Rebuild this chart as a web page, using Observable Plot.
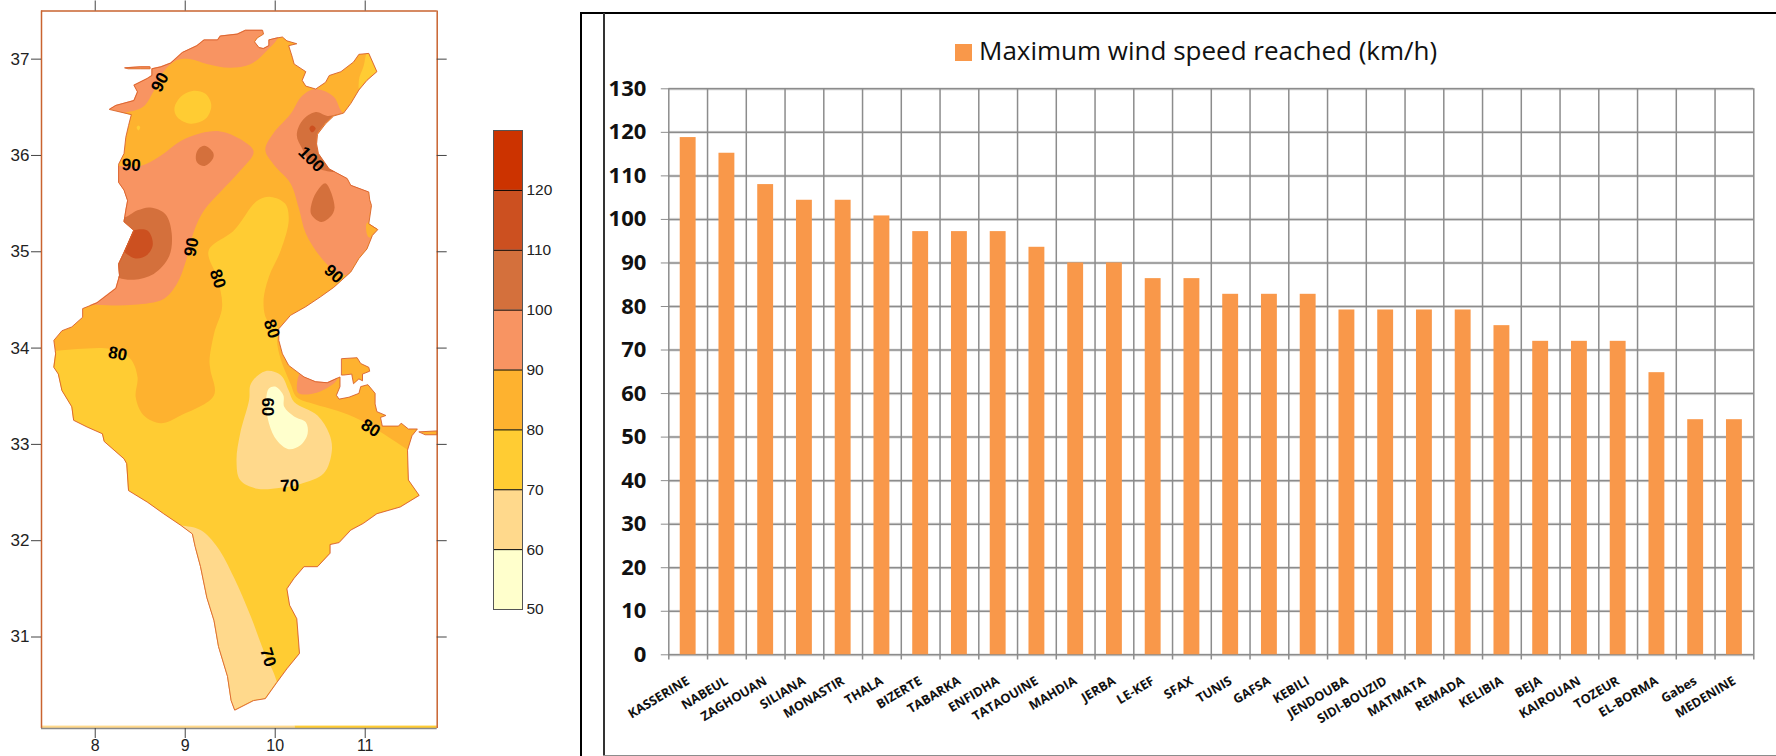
<!DOCTYPE html>
<html><head><meta charset="utf-8">
<script src="https://cdn.jsdelivr.net/npm/d3@7"></script>
<script src="https://cdn.jsdelivr.net/npm/@observablehq/plot@0.6"></script>
<style>
html,body{margin:0;padding:0;background:#fff}
#page{position:relative;width:1776px;height:756px;overflow:hidden;background:#fff}
#page>div.slot{position:absolute}
.line{position:absolute}
svg{background:transparent !important;display:block;overflow:visible}
</style></head><body><div id="page"></div>
<script>
// ---- bar chart data ----
const stations = ["KASSERINE","NABEUL","ZAGHOUAN","SILIANA","MONASTIR","THALA","BIZERTE","TABARKA","ENFIDHA","TATAOUINE","MAHDIA","JERBA","LE-KEF","SFAX","TUNIS","GAFSA","KEBILI","JENDOUBA","SIDI-BOUZID","MATMATA","REMADA","KELIBIA","BEJA","KAIROUAN","TOZEUR","EL-BORMA","Gabes","MEDENINE"];
const maxWind = [118.8,115.2,108,104.4,104.4,100.8,97.2,97.2,97.2,93.6,90,90,86.4,86.4,82.8,82.8,82.8,79.2,79.2,79.2,79.2,75.6,72,72,72,64.8,54,54];
const windTicks = [0,10,20,30,40,50,60,70,80,90,100,110,120,130];
const legendText = "Maximum wind speed reached (km/h)";

// ---- colour key ----
const binLow = [50,60,70,80,90,100,110,120];
const binColor = ["#FFFFCC","#FFD98C","#FFCC33","#FEB22F","#F89462","#D4703C","#CC5020","#CC3300"];

// ---- map: coast as [lon,lat] ----
const coastMain = [[8.16,36.48],[8.23,36.52],[8.43,36.57],[8.47,36.66],[8.43,36.73],[8.58,36.80],[8.63,36.83],[8.63,36.90],[8.73,36.92],[8.84,36.96],[8.97,37.07],[9.13,37.14],[9.21,37.20],[9.36,37.20],[9.39,37.24],[9.58,37.26],[9.67,37.30],[9.86,37.30],[9.87,37.26],[9.80,37.22],[9.77,37.18],[9.82,37.12],[9.87,37.11],[9.93,37.14],[9.93,37.20],[10.02,37.22],[10.08,37.23],[10.13,37.19],[10.24,37.16],[10.15,37.14],[10.19,37.02],[10.21,36.95],[10.34,36.87],[10.30,36.78],[10.34,36.72],[10.45,36.69],[10.56,36.76],[10.60,36.83],[10.73,36.87],[10.87,36.97],[10.93,37.05],[11.04,37.06],[11.13,36.87],[11.02,36.78],[10.93,36.68],[10.84,36.54],[10.76,36.44],[10.65,36.41],[10.56,36.33],[10.47,36.22],[10.46,36.12],[10.48,36.02],[10.60,35.86],[10.80,35.76],[10.84,35.69],[11.04,35.62],[11.05,35.54],[11.07,35.48],[11.04,35.29],[11.14,35.23],[11.08,35.17],[11.02,35.03],[10.93,34.93],[10.84,34.79],[10.65,34.63],[10.50,34.53],[10.34,34.43],[10.17,34.34],[10.04,34.20],[10.04,34.08],[10.08,33.94],[10.15,33.82],[10.32,33.70],[10.45,33.65],[10.58,33.64],[10.72,33.70],[10.72,33.60],[10.68,33.51],[10.71,33.47],[10.82,33.49],[10.93,33.53],[10.95,33.60],[11.03,33.62],[11.11,33.53],[11.11,33.42],[11.13,33.34],[11.23,33.30],[11.17,33.28],[11.19,33.19],[11.37,33.19],[11.40,33.22],[11.48,33.16],[11.58,33.16],[11.52,33.09],[11.47,32.94],[11.48,32.63],[11.60,32.47],[11.39,32.35],[11.13,32.28],[10.98,32.18],[10.84,32.11],[10.71,31.98],[10.61,31.96],[10.61,31.87],[10.47,31.73],[10.32,31.73],[10.21,31.61],[10.13,31.50],[10.16,31.33],[10.24,31.19],[10.27,30.83],[10.13,30.67],[10.02,30.53],[9.89,30.36],[9.76,30.34],[9.55,30.24],[9.51,30.34],[9.47,30.59],[9.37,30.90],[9.32,31.17],[9.24,31.41],[9.17,31.73],[9.11,31.94],[9.08,32.07],[8.95,32.16],[8.76,32.28],[8.58,32.40],[8.37,32.52],[8.35,32.80],[8.32,32.85],[8.10,33.03],[8.08,33.11],[7.91,33.18],[7.76,33.25],[7.74,33.39],[7.63,33.56],[7.59,33.73],[7.54,33.80],[7.56,33.94],[7.54,34.08],[7.63,34.18],[7.74,34.22],[7.86,34.32],[7.86,34.41],[8.02,34.47],[8.23,34.62],[8.27,34.75],[8.26,34.87],[8.34,35.03],[8.43,35.22],[8.32,35.31],[8.34,35.43],[8.36,35.53],[8.32,35.64],[8.26,35.72],[8.26,35.91],[8.32,36.02],[8.34,36.19],[8.37,36.31],[8.40,36.42]];
const coastDjerba = [[10.74,33.89],[10.91,33.90],[10.95,33.84],[11.04,33.80],[11.05,33.76],[10.97,33.73],[10.97,33.66],[10.93,33.68],[10.87,33.63],[10.85,33.73],[10.76,33.72],[10.74,33.72]];
const coastEast = [[11.60,33.13],[11.80,33.14],[11.80,33.10],[11.67,33.10]];
const coastNorth = [[8.33,36.91],[8.50,36.92],[8.61,36.92],[8.61,36.90],[8.50,36.90],[8.37,36.90]];

// ---- map: wind speed bands as [lon,lat], smooth closed outlines ----
const band70South = [[7.32,33.97],[7.54,33.97],[7.80,33.99],[8.17,33.99],[8.39,33.89],[8.47,33.70],[8.45,33.49],[8.54,33.30],[8.73,33.22],[8.95,33.30],[9.32,33.51],[9.28,33.77],[9.27,33.87],[9.32,34.15],[9.41,34.43],[9.36,34.72],[9.26,35.01],[9.54,35.22],[9.80,35.53],[9.95,35.57],[10.11,35.50],[10.15,35.33],[10.06,35.01],[9.93,34.74],[9.87,34.48],[9.91,34.29],[10.04,34.20],[10.02,34.08],[10.06,33.89],[10.17,33.63],[10.24,33.49],[10.43,33.42],[10.69,33.35],[10.95,33.25],[11.48,32.94],[11.76,32.77],[11.76,30.0],[7.32,30.0]];
const band70Cape = [[11.04,37.09],[10.98,36.92],[10.93,36.78],[10.95,36.64],[11.24,36.78],[11.24,37.06]];
const band70Blob = [[9.08,36.67],[9.225,36.64],[9.29,36.52],[9.225,36.38],[9.06,36.33],[8.91,36.40],[8.88,36.49],[8.95,36.61]];
const band70Spot = [[8.48,36.31],[8.50,36.29],[8.48,36.26],[8.46,36.29]];
const band90North = [[8.06,36.47],[8.41,36.46],[8.54,36.51],[8.65,36.67],[8.76,36.87],[8.91,36.99],[9.06,37.00],[9.24,36.95],[9.50,36.91],[9.73,36.95],[9.91,37.09],[10.04,37.24],[10.04,37.40],[8.06,37.40]];
const band90West = [[8.06,35.89],[8.26,35.89],[8.50,35.89],[8.73,36.00],[8.95,36.15],[9.17,36.23],[9.39,36.25],[9.61,36.17],[9.76,36.04],[9.61,35.84],[9.39,35.62],[9.21,35.43],[9.10,35.22],[9.00,34.88],[8.91,34.67],[8.76,34.51],[8.43,34.45],[8.02,34.45],[7.69,34.49],[7.87,35.53]];
const band90East = [[10.76,36.44],[10.65,36.61],[10.45,36.69],[10.30,36.62],[10.17,36.43],[9.98,36.23],[9.89,36.06],[9.98,35.91],[10.17,35.71],[10.26,35.46],[10.34,35.19],[10.50,34.95],[10.65,34.81],[10.82,34.75],[11.58,34.84],[11.58,36.23],[11.02,36.47]];
const band80Ras = [[11.02,35.30],[11.04,35.15],[11.21,35.22]];
const band90Gulf = [[10.24,33.60],[10.30,33.77],[10.65,33.77],[10.69,33.68],[10.47,33.54],[10.26,33.53]];
const band100Blob = [[9.215,36.10],[9.31,36.03],[9.31,35.97],[9.215,35.89],[9.13,35.93],[9.12,36.01],[9.15,36.07]];
const band100Cape = [[10.45,36.45],[10.30,36.36],[10.24,36.21],[10.30,36.07],[10.41,35.91],[10.56,35.84],[10.69,35.84],[10.84,36.12],[10.80,36.43],[10.58,36.41]];
const band100Drop = [[10.56,35.71],[10.66,35.46],[10.61,35.36],[10.51,35.31],[10.40,35.39],[10.41,35.52],[10.48,35.65]];
const band100West = [[8.06,35.36],[8.31,35.35],[8.47,35.43],[8.61,35.46],[8.78,35.39],[8.85,35.19],[8.82,34.95],[8.65,34.77],[8.43,34.71],[8.26,34.73],[8.06,34.84]];
const band110West = [[8.21,35.12],[8.41,35.22],[8.58,35.22],[8.64,35.08],[8.58,34.97],[8.45,34.93],[8.32,35.00]];
const band110Cape = [[10.41,36.31],[10.45,36.28],[10.41,36.24],[10.38,36.28]];
const band60Centre = [[9.89,33.76],[10.06,33.72],[10.15,33.56],[10.21,33.44],[10.47,33.30],[10.60,33.11],[10.63,32.94],[10.54,32.70],[10.28,32.59],[10.06,32.55],[9.80,32.54],[9.61,32.63],[9.57,32.83],[9.61,33.11],[9.71,33.46],[9.73,33.63]];
const band60South = [[8.80,32.18],[8.95,32.16],[9.17,32.11],[9.36,31.93],[9.54,31.62],[9.73,31.21],[9.87,30.86],[10.02,30.53],[10.10,30.0],[8.80,30.0]];
const band50Centre = [[10.00,33.60],[10.09,33.51],[10.10,33.39],[10.21,33.29],[10.34,33.23],[10.36,33.11],[10.28,32.99],[10.15,32.95],[10.02,33.04],[9.93,33.22],[9.90,33.46],[9.93,33.58]];

// ---- contour labels ----
const contourText = ["90","90","100","90","80","90","80","80","60","70","80","70"];
const contourLon  = [8.72,8.40,10.40,9.07,9.36,10.65,9.96,8.25,9.91,10.16,11.06,9.92];
const contourLat  = [36.76,35.90,35.96,35.05,34.72,34.77,34.20,33.94,33.39,32.57,33.17,30.79];
const contourTurn = [-62,3,45,-80,72,42,72,10,90,-3,32,72];

// ---- map axes ----
const lonTicks = [8,9,10,11];
const latTicks = [31,32,33,34,35,36,37];
const lonDomain = [7.403,11.8];
const latDomain = [30.05,37.5];
const stripBreak = 10.22;

const page = document.getElementById("page");
function place(node,left,top){const d=document.createElement("div");d.className="slot";d.style.left=left+"px";d.style.top=top+"px";d.appendChild(node);page.appendChild(d);return d;}
function bar(l,t,w,h,c){const d=document.createElement("div");d.className="line";d.style.cssText=`left:${l}px;top:${t}px;width:${w}px;height:${h}px;background:${c}`;page.appendChild(d);}

// ===== map =====
const [c70,c60,c50,c80,c90,c100,c110]=[binColor[2],binColor[1],binColor[0],binColor[3],binColor[4],binColor[5],binColor[6]];
const poly=(pts,fill)=>Plot.line(pts,{x:d=>d[0],y:d=>d[1],fill,stroke:"none",curve:"catmull-rom-closed",ariaDescription:"band"});
const coastParts=[coastMain,coastDjerba,coastEast,coastNorth];
const coastRows=coastParts.flatMap((p,i)=>p.map(d=>({lon:d[0],lat:d[1],part:i})));
const tickLon=10/90, tickLat=10/96.3;
const map=Plot.plot({
  width:450,height:756,marginLeft:41,marginRight:13.3,marginTop:10.5,marginBottom:28,
  style:{background:"transparent"},
  x:{domain:lonDomain},y:{domain:latDomain},
  marks:[
    Plot.line(coastRows,{x:"lon",y:"lat",z:"part",fill:c80,stroke:"none",curve:"linear-closed",ariaDescription:"coastfill"}),
    poly(band70South,c70),poly(band70Cape,c70),poly(band70Blob,c70),poly(band70Spot,c70),
    poly(band90North,c90),poly(band90West,c90),poly(band90East,c90),poly(band80Ras,c80),poly(band90Gulf,c90),
    poly(band100Blob,c100),poly(band100Cape,c100),poly(band100Drop,c100),poly(band100West,c100),
    poly(band110West,c110),poly(band110Cape,c110),
    poly(band60Centre,c60),poly(band60South,c60),poly(band50Centre,c50),
    Plot.line(coastRows,{x:"lon",y:"lat",z:"part",stroke:"#D8602C",strokeWidth:0.9,curve:"linear-closed"}),
    Plot.rect([0],{x1:lonDomain[0],x2:stripBreak,y1:30.05,y2:30.075,fill:c60}),
    Plot.rect([0],{x1:stripBreak,x2:lonDomain[1],y1:30.05,y2:30.075,fill:c70}),
    Plot.text(contourText,{x:(d,i)=>contourLon[i],y:(d,i)=>contourLat[i],text:d=>d,rotate:(d,i)=>contourTurn[i],fontFamily:"Liberation Sans",fontWeight:700,fontSize:17,fill:"#000"}),
    Plot.ruleY([latDomain[1]],{stroke:"#C9632F",strokeWidth:1.5}),
    Plot.ruleX(lonDomain,{stroke:"#C9632F",strokeWidth:1.5}),
    Plot.ruleY([latDomain[0]],{stroke:"#8a8a8a",strokeWidth:1.5}),
    Plot.axisX({anchor:"bottom",ticks:lonTicks,tickSize:10,tickPadding:1,tickFormat:"d",stroke:"#444",label:null,fontFamily:"Liberation Sans",fontSize:16,fill:"#222"}),
    Plot.ruleX(lonTicks,{y1:latDomain[1],y2:latDomain[1]+tickLat,stroke:"#444"}),
    Plot.axisY({anchor:"left",ticks:latTicks,tickSize:10,tickPadding:2,tickFormat:"d",stroke:"#444",label:null,fontFamily:"Liberation Sans",fontSize:17,fill:"#222"}),
    Plot.ruleY(latTicks,{x1:lonDomain[1],x2:lonDomain[1]+tickLon,stroke:"#444"})
  ]
});
// clip the bands to the coast
const ns="http://www.w3.org/2000/svg";
const defs=document.createElementNS(ns,"defs"),clip=document.createElementNS(ns,"clipPath");
clip.setAttribute("id","tn");
map.querySelectorAll('[aria-description="coastfill"] path').forEach(p=>{const c=document.createElementNS(ns,"path");c.setAttribute("d",p.getAttribute("d"));clip.appendChild(c);});
defs.appendChild(clip);map.insertBefore(defs,map.firstChild);
map.querySelectorAll('[aria-description="band"]').forEach(g=>{
  const w=document.createElementNS(ns,"g");w.setAttribute("clip-path","url(#tn)");g.parentNode.insertBefore(w,g);w.appendChild(g);
});
place(map,0,0);

// ===== colour key =====
const key=Plot.plot({
  width:100,height:500,marginLeft:13,marginRight:58,marginTop:10,marginBottom:11,
  style:{background:"transparent"},
  color:{type:"identity"},
  x:{domain:[0,1],axis:null},y:{domain:[50,130]},
  marks:[
    Plot.rect(binLow,{x1:0,x2:1,y1:d=>d,y2:d=>d+10,fill:(d,i)=>binColor[i],inset:0}),
    Plot.ruleY(binLow.slice(1),{stroke:"#000",strokeWidth:1}),
    Plot.frame({stroke:"#555",strokeWidth:1}),
    Plot.axisY({anchor:"right",ticks:binLow,tickSize:0,tickPadding:4,label:null,fontFamily:"Liberation Sans",fontSize:15.5,fill:"#222"})
  ]
});
place(key,480,120);

// ===== frames of the bar chart =====
bar(580,12,1196,2,"#000");
bar(580,12,2,744,"#000");
bar(603,13,2,743,"#333");
bar(603,754.5,1173,1.5,"#8c8c8c");

// ===== bars =====
const step=(1753.3-668.3)/stations.length;
const rows=stations.map((s,i)=>({s,v:maxWind[i]}));
const gridColor="#8c8c8c";
const bars=Plot.plot({
  width:1186,height:756,marginLeft:78.3,marginRight:22.7,marginTop:88.3,marginBottom:101.7,
  style:{background:"transparent"},
  x:{domain:stations,type:"band",paddingInner:0.59,paddingOuter:0.295,round:false},
  y:{domain:[0,130]},
  marks:[
    Plot.ruleY(windTicks,{stroke:"#e6e6e6",strokeWidth:3.2}),
    Plot.ruleY(windTicks,{stroke:gridColor,strokeWidth:1.5}),
    Plot.ruleX(stations,{x:d=>d,y1:-1.2,y2:130,dx:-step/2,stroke:gridColor,strokeWidth:1.5}),
    Plot.ruleX(stations.slice(-1),{x:d=>d,y1:-1.2,y2:130,dx:step/2,stroke:gridColor,strokeWidth:1.5}),
    Plot.barY(rows,{x:"s",y:"v",fill:"#F9984A"}),
    Plot.axisY({ticks:windTicks,tickSize:7.5,tickPadding:15,stroke:gridColor,label:null,fontFamily:"Open Sans",fontWeight:700,fontSize:22,fill:"#111"}),
    Plot.axisX({tickSize:0,tickPadding:25,tickRotate:-31,label:null,fontFamily:"Open Sans",fontWeight:700,fontSize:12.75,fill:"#111"})
  ]
});
place(bars,590,0);

// ===== legend =====
const sw=document.createElement("div");sw.style.cssText="position:absolute;left:955px;top:44px;width:17px;height:17px;background:#F9984A";page.appendChild(sw);
const lg=document.createElement("div");lg.textContent=legendText;lg.style.cssText="position:absolute;left:979px;top:32px;font:26px 'Open Sans';color:#111;white-space:nowrap";page.appendChild(lg);
</script></body></html>
